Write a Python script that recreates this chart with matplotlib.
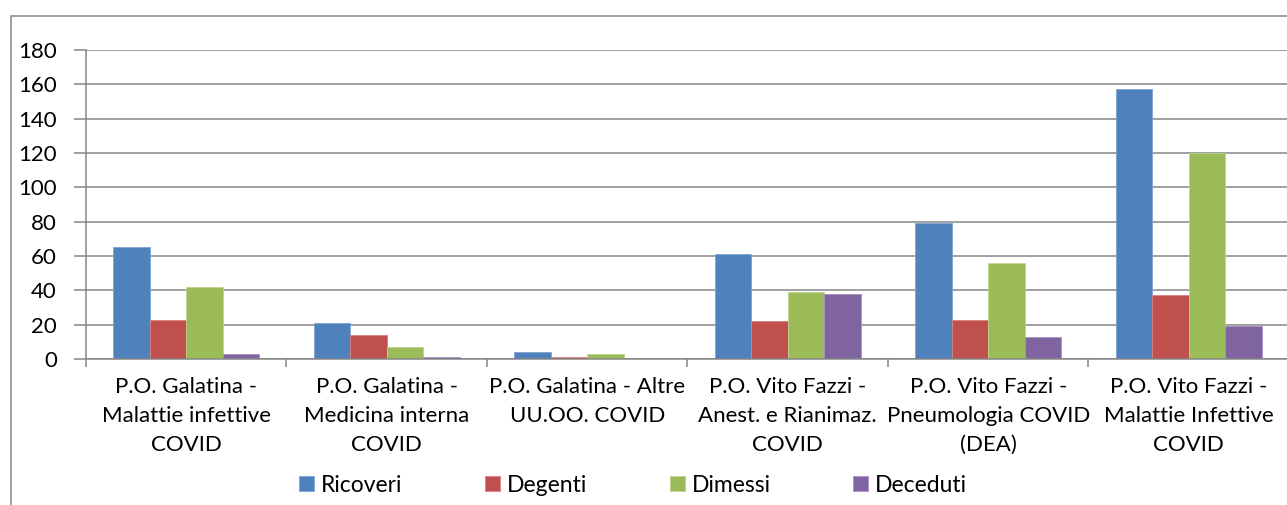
import matplotlib
matplotlib.use("Agg")
import matplotlib.pyplot as plt
import numpy as np
from matplotlib.patches import Rectangle

plt.rcParams['font.family'] = ['Lato', 'DejaVu Sans']

categories = [
    "P.O. Galatina -\nMalattie infettive\nCOVID",
    "P.O. Galatina -\nMedicina interna\nCOVID",
    "P.O. Galatina - Altre\nUU.OO. COVID",
    "P.O. Vito Fazzi -\nAnest. e Rianimaz.\nCOVID",
    "P.O. Vito Fazzi -\nPneumologia COVID\n(DEA)",
    "P.O. Vito Fazzi -\nMalattie Infettive\nCOVID",
]
series_names = ["Ricoveri", "Degenti", "Dimessi", "Deceduti"]
ricoveri = [65, 21, 4, 61, 79, 157]
degenti = [23, 14, 1, 22, 23, 37]
dimessi = [42, 7, 3, 39, 56, 120]
deceduti = [3, 1, 0, 38, 13, 19]
yticks = [0, 20, 40, 60, 80, 100, 120, 140, 160, 180]

colors = ["#4F81BD", "#C0504D", "#9BBB59", "#8064A2"]
edges = ["#7FA3D3", "#D98381", "#BDD48E", "#A792C2"]

W, H = 1287, 505
FS = 16
fig = plt.figure(figsize=(W / 100, H / 100), dpi=100)
ax = fig.add_axes([86 / W, (H - 359) / H, (1289 - 86) / W, (359 - 50) / H])

x = np.arange(len(categories))
bw = 1 / 5.5
data = [ricoveri, degenti, dimessi, deceduti]
for i, (vals, name) in enumerate(zip(data, series_names)):
    ax.bar(x + (i - 1.5) * bw, vals, width=bw, color=colors[i],
           edgecolor=edges[i], linewidth=0.6, label=name, zorder=3)

ax.set_xlim(-0.5, len(categories) - 0.5)
ax.set_ylim(0, 180)
ax.set_yticks(yticks)
ax.yaxis.grid(True, color="#868686", linewidth=1.1, zorder=0)
ax.set_axisbelow(True)

ax.set_xticks(x)
ax.set_xticklabels(categories, fontsize=FS, linespacing=1.55)
ax.set_xticks(np.arange(-0.5, len(categories)), minor=True)
ax.tick_params(axis='x', which='major', length=0, pad=13)
ax.tick_params(axis='x', which='minor', length=6, width=1.1, color="#868686", direction='out')
ax.tick_params(axis='y', length=9, width=1.1, color="#868686", pad=12, labelsize=FS)

for s in ["top", "right"]:
    ax.spines[s].set_visible(False)
for s in ["left", "bottom"]:
    ax.spines[s].set_color("#868686")
    ax.spines[s].set_linewidth(1.1)
    ax.spines[s].set_zorder(4)

leg = ax.legend(loc="center", bbox_to_anchor=(633 / W, (H - 485) / H),
                bbox_transform=fig.transFigure, ncol=4, frameon=False,
                fontsize=16.5, handlelength=0.66, handleheight=0.66,
                handletextpad=0.3, columnspacing=3.6, borderpad=0)

fig.patches.append(Rectangle((11 / W, -0.1), 1.2, (H - 16) / H + 0.1,
                             transform=fig.transFigure, fill=False,
                             edgecolor="#868686", linewidth=1.1))

fig.savefig("out.png", dpi=100)
